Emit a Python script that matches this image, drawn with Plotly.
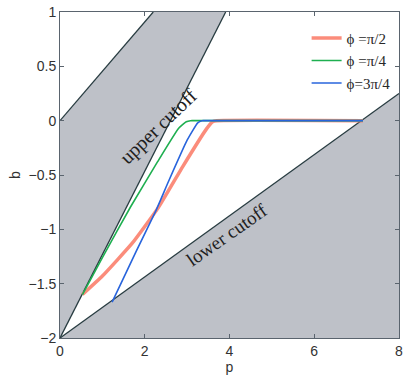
import plotly.graph_objects as go

# boundary lines
left_edge_p = [0, 2.2]
left_edge_b = [0, 1]
upper_cut_p = [0, 3.91]
upper_cut_b = [-2, 1]
lower_cut_p = [0, 8]
lower_cut_b = [-2, 0.25]

# curves
red_p = [0.53, 1.0, 1.7, 2.32, 2.9, 3.45, 3.6, 3.7, 7.15]
red_b = [-1.6, -1.43, -1.13, -0.8, -0.42, -0.08, -0.01, 0.0, 0.0]
green_p = [0.53, 1.0, 1.67, 2.3, 2.8, 2.98, 3.08, 3.2, 7.15]
green_b = [-1.6, -1.26, -0.79, -0.38, -0.07, -0.01, 0.0, 0.0, 0.0]
blue_p = [1.23, 1.8, 2.25, 2.56, 3.0, 3.25, 3.35, 3.45, 7.15]
blue_b = [-1.67, -1.2, -0.84, -0.56, -0.18, -0.02, 0.0, 0.0, 0.0]

gray = "rgb(190,193,200)"
edge = "rgb(40,60,65)"

fig = go.Figure()
# upper-left gray band
fig.add_trace(go.Scatter(
    x=[left_edge_p[0], left_edge_p[1], upper_cut_p[1], upper_cut_p[0], left_edge_p[0]],
    y=[left_edge_b[0], left_edge_b[1], upper_cut_b[1], upper_cut_b[0], left_edge_b[0]],
    fill="toself", fillcolor=gray, line=dict(width=0), mode="lines",
    showlegend=False, hoverinfo="skip"))
# lower-right gray region
fig.add_trace(go.Scatter(
    x=[lower_cut_p[0], lower_cut_p[1], 8, lower_cut_p[0]],
    y=[lower_cut_b[0], lower_cut_b[1], -2, lower_cut_b[0]],
    fill="toself", fillcolor=gray, line=dict(width=0), mode="lines",
    showlegend=False, hoverinfo="skip"))
for xs, ys in [(left_edge_p, left_edge_b), (upper_cut_p, upper_cut_b), (lower_cut_p, lower_cut_b)]:
    fig.add_trace(go.Scatter(x=xs, y=ys, mode="lines", line=dict(color=edge, width=1.3),
                             showlegend=False, hoverinfo="skip"))

fig.add_trace(go.Scatter(x=red_p, y=red_b, mode="lines", name="\u03d5 =\u03c0/2",
                         line=dict(color="rgba(250,120,100,0.85)", width=3.5, shape="spline", smoothing=0.4)))
fig.add_trace(go.Scatter(x=green_p, y=green_b, mode="lines", name="\u03d5 =\u03c0/4",
                         line=dict(color="rgb(30,175,80)", width=1.6, shape="spline", smoothing=0.4)))
fig.add_trace(go.Scatter(x=blue_p, y=blue_b, mode="lines", name="\u03d5=3\u03c0/4",
                         line=dict(color="rgb(40,100,220)", width=1.6, shape="spline", smoothing=0.4)))

fig.add_annotation(x=2.32, y=-0.05, text="upper cutoff", showarrow=False, textangle=-44,
                   font=dict(family="Liberation Serif", size=20, color="rgb(30,30,30)"))
fig.add_annotation(x=3.95, y=-1.05, text="lower cutoff", showarrow=False, textangle=-35,
                   font=dict(family="Liberation Serif", size=19, color="rgb(30,30,30)"))

axis_common = dict(showgrid=False, zeroline=False, showline=True, linecolor="rgb(90,100,110)",
                   linewidth=1, mirror="ticks", ticks="inside", ticklen=4,
                   tickcolor="rgb(90,100,110)",
                   tickfont=dict(family="Liberation Sans", size=14, color="rgb(50,50,50)"))
fig.update_xaxes(range=[0, 8], tickvals=[0, 2, 4, 6, 8], ticklabeloverflow="allow",
                 title=dict(text="p", standoff=4,
                 font=dict(family="Liberation Sans", size=14, color="rgb(50,50,50)")), **axis_common)
fig.update_yaxes(range=[-2, 1], tickvals=[-2, -1.5, -1, -0.5, 0, 0.5, 1], title=dict(text="b", standoff=4,
                 font=dict(family="Liberation Sans", size=14, color="rgb(50,50,50)")), **axis_common)

fig.update_layout(
    width=407, height=379, margin=dict(l=60, r=4, t=12, b=41),
    plot_bgcolor="white", paper_bgcolor="white",
    legend=dict(x=0.99, y=0.97, xanchor="right", yanchor="top", bgcolor="rgba(0,0,0,0)",
                font=dict(family="Liberation Serif", size=15, color="rgb(40,40,40)"),
                tracegroupgap=0, itemwidth=30),
)
fig.write_html("out.html")
